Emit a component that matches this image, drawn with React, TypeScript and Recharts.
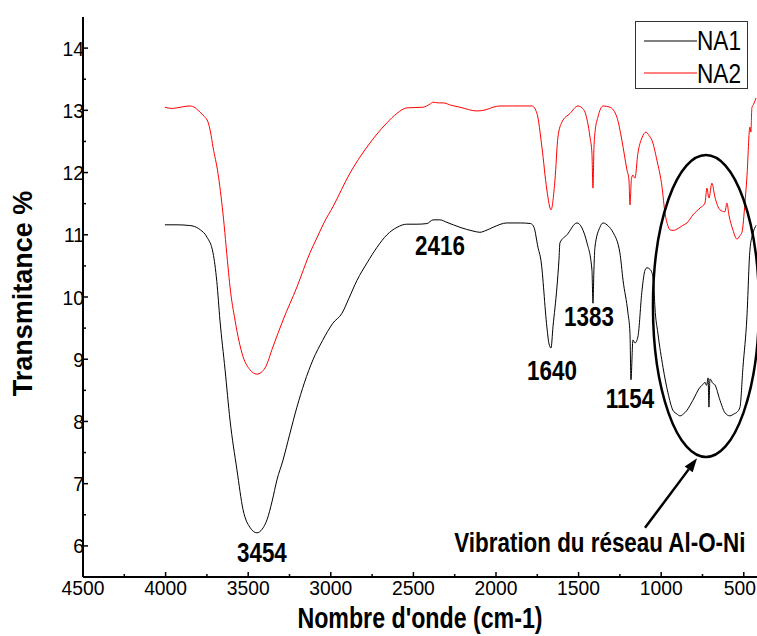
import React from 'react';
import { LineChart, Line, XAxis, YAxis, ReferenceDot, ReferenceLine, Legend, Label } from 'recharts';

// Wavenumbers (cm-1) and transmittance values
const na1Wave = [4004,3930,3860,3834,3790,3749,3713,3690,3671,3640,3610,3568,3531,3490,3447,3415,3386,3355,3326,3289,3250,3205,3160,3108,3050,2987,2932,2890,2841,2780,2720,2660,2599,2540,2478,2418,2381,2340,2297,2218,2139,2097,2060,2018,1934,1850,1790,1770,1746,1728,1692,1680,1667,1655,1631,1619,1613,1570,1510,1449,1419,1413,1407,1401,1371,1352,1320,1292,1250,1231,1201,1189,1183,1171,1159,1141,1116,1098,1086,1070,1056,1045,1038,1020,989,959,929,905,886,865,844,808,765,745,735,725,716,711,705,699,690,675,644,614,584,560,541,523,505,481,463,444,425];
const na1Trans = [11.16,11.16,11.15,11.14,11.08,10.96,10.71,10.25,9.63,8.83,8.02,7.22,6.58,6.30,6.21,6.27,6.42,6.72,7.06,7.38,7.78,8.23,8.62,8.99,9.30,9.58,9.74,9.98,10.27,10.55,10.80,11.00,11.12,11.17,11.17,11.18,11.24,11.24,11.20,11.12,11.06,11.04,11.07,11.12,11.19,11.19,11.18,11.12,10.80,10.59,9.52,9.26,9.18,9.52,10.16,10.59,10.87,11.00,11.19,10.87,10.43,9.90,10.45,10.80,11.12,11.19,11.14,11.04,10.71,10.27,9.74,9.42,8.67,9.31,9.26,9.36,10.11,10.43,10.47,10.45,10.39,10.20,9.84,9.42,8.87,8.46,8.18,8.12,8.09,8.12,8.18,8.34,8.55,8.60,8.63,8.58,8.70,8.23,8.68,8.67,8.62,8.59,8.34,8.14,8.09,8.12,8.15,8.23,8.87,9.68,10.75,11.03,11.15];

const na2Wave = [4004,3960,3931,3890,3852,3820,3792,3765,3743,3728,3713,3683,3653,3622,3610,3580,3531,3489,3447,3398,3350,3289,3205,3126,3084,3040,2987,2884,2781,2720,2660,2600,2539,2442,2400,2381,2350,2321,2270,2218,2115,2060,2018,1976,1900,1782,1752,1722,1692,1667,1643,1625,1601,1552,1504,1480,1461,1431,1419,1413,1407,1401,1383,1352,1310,1268,1238,1207,1195,1189,1180,1171,1159,1141,1116,1092,1075,1056,1026,995,977,960,947,925,905,870,844,808,765,735,723,711,693,675,644,614,602,590,566,541,525,511,493,481,463,457,451,440,425];
const na2Trans = [13.05,13.03,13.04,13.06,13.07,13.04,12.97,12.90,12.81,12.65,12.41,11.99,11.35,10.48,10.16,9.63,9.04,8.83,8.76,8.86,9.20,9.63,10.16,10.71,10.95,11.20,11.45,11.99,12.41,12.62,12.80,12.95,13.04,13.05,13.10,13.13,13.12,13.12,13.08,13.05,12.99,13.01,13.05,13.07,13.07,13.07,12.95,12.41,11.72,11.40,11.88,12.57,12.81,12.95,13.07,13.04,12.97,12.57,12.30,11.75,12.40,12.64,12.89,13.07,13.05,12.89,12.52,12.04,11.88,11.48,11.90,11.96,11.91,12.31,12.56,12.65,12.60,12.52,12.20,11.77,11.35,11.15,11.08,11.07,11.09,11.15,11.19,11.32,11.43,11.51,11.75,11.59,11.83,11.61,11.40,11.37,11.51,11.32,11.08,10.93,10.98,11.04,11.51,11.93,12.73,12.65,13.04,13.10,13.20];

const xTicks = [4500,4250,4000,3750,3500,3250,3000,2750,2500,2250,2000,1750,1500,1250,1000,750,500];
const yTicks = [6,6.5,7,7.5,8,8.5,9,9.5,10,10.5,11,11.5,12,12.5,13,13.5,14];

const peakLabels = [
  { text: '3454', x: 3417, y: 5.90 },
  { text: '2416', x: 2339, y: 10.84 },
  { text: '1640', x: 1661, y: 8.83 },
  { text: '1383', x: 1437, y: 9.69 },
  { text: '1154', x: 1189, y: 8.38 },
];
const regionLabel = { text: 'Vibration du réseau Al-O-Ni', x: 1371, y: 6.06 };
const regionEllipse = { x: 729, y: 9.855 };
const arrowFrom = { x: 1098, y: 6.29 };
const arrowTo = { x: 783, y: 7.41 };

const zip = (xs: number[], ys: number[]) => xs.map((x, i) => ({ x, t: ys[i] }));
const na1Data = zip(na1Wave, na1Trans);
const na2Data = zip(na2Wave, na2Trans);

const FONT = '"Liberation Sans", Arial, sans-serif';
const CHART_W = 757;

const BottomTick = (p: any) => {
  const { x, y, payload } = p;
  const major = payload.value % 500 === 0;
  const nearEdge = x > CHART_W - 18;
  return (
    <g>
      <line x1={x} x2={x} y1={y} y2={y - (major ? 5 : 3)} stroke="#000" strokeWidth={1.5} />
      {major && (
        <text
          transform={`translate(${nearEdge ? CHART_W - 1 : x},${y + 18}) scale(0.92,1)`}
          textAnchor={nearEdge ? 'end' : 'middle'}
          fontSize={21}
          fontFamily={FONT}
          fill="#000"
        >
          {payload.value}
        </text>
      )}
    </g>
  );
};

const TopTick = (p: any) => {
  const { x, y, payload } = p;
  const major = payload.value % 500 === 0;
  return <line x1={x} x2={x} y1={y} y2={y + (major ? 5 : 3)} stroke="#000" strokeWidth={1.5} />;
};

const LeftTick = (p: any) => {
  const { x, y, payload } = p;
  const major = Number.isInteger(payload.value);
  return (
    <g>
      <line x1={x} x2={x + (major ? 5 : 3)} y1={y} y2={y} stroke="#000" strokeWidth={1.5} />
      {major && (
        <text transform={`translate(${x + 1},${y + 7.5}) scale(0.92,1)`} textAnchor="end" fontSize={21} fontFamily={FONT} fill="#000">
          {payload.value}
        </text>
      )}
    </g>
  );
};

const boldText = (text: string, size: number, sx: number) => (p: any) => (
  <text
    transform={`translate(${p.cx},${p.cy}) scale(${sx},1)`}
    y={size * 0.36}
    textAnchor="middle"
    fontSize={size}
    fontWeight="bold"
    fontFamily={FONT}
    fill="#000"
  >
    {text}
  </text>
);

const ArrowShape = (p: any) => {
  const { x1, y1, x2, y2 } = p;
  const dx = x2 - x1;
  const dy = y2 - y1;
  const len = Math.sqrt(dx * dx + dy * dy) || 1;
  const ux = dx / len;
  const uy = dy / len;
  const hl = 14;
  const hw = 5;
  const bx = x2 - ux * hl;
  const by = y2 - uy * hl;
  const pts = `${x2},${y2} ${bx - uy * hw},${by + ux * hw} ${bx + uy * hw},${by - ux * hw}`;
  return (
    <g>
      <line x1={x1} y1={y1} x2={bx} y2={by} stroke="#000" strokeWidth={2.5} />
      <polygon points={pts} fill="#000" />
    </g>
  );
};

const LegendContent = () => (
  <svg width={113} height={68} style={{ display: 'block' }}>
    <rect x={0.5} y={0.5} width={112} height={67} fill="#fff" stroke="#333" strokeWidth={1} />
    <line x1={9} x2={62} y1={20} y2={20} stroke="#000" strokeWidth={1} />
    <text transform="translate(62,29) scale(0.84,1)" fontSize={27} fontFamily={FONT} fill="#000">NA1</text>
    <line x1={9} x2={62} y1={52} y2={52} stroke="#ff0000" strokeWidth={1} />
    <text transform="translate(62,62) scale(0.84,1)" fontSize={27} fontFamily={FONT} fill="#000">NA2</text>
  </svg>
);

export default function App() {
  return (
    <div style={{ position: 'absolute', left: 0, top: 0, width: 757, height: 636, background: '#fff' }}>
      <LineChart width={757} height={636} margin={{ top: 17, right: 0, bottom: 0, left: 0 }}>
        <XAxis
          dataKey="x"
          type="number"
          domain={[420, 4500]}
          reversed
          allowDataOverflow
          ticks={xTicks}
          interval={0}
          height={59}
          tickSize={0}
          tickMargin={0}
          tickLine={false}
          tick={BottomTick}
          axisLine={{ stroke: '#000', strokeWidth: 2 }}
        >
          <Label
            content={(props: any) => {
              const vb = props.viewBox;
              const cx = vb.x + vb.width / 2;
              return (
                <text transform={`translate(${cx},${vb.y + 51}) scale(0.8,1)`} textAnchor="middle" fontSize={29} fontWeight="bold" fontFamily={FONT} fill="#000">
                  Nombre d'onde (cm-1)
                </text>
              );
            }}
          />
        </XAxis>
        <XAxis
          xAxisId="top"
          orientation="top"
          dataKey="x"
          type="number"
          domain={[420, 4500]}
          reversed
          allowDataOverflow
          ticks={xTicks}
          interval={0}
          height={0}
          tickSize={0}
          tickMargin={0}
          tickLine={false}
          tick={TopTick}
          axisLine={{ stroke: '#000', strokeWidth: 2 }}
        />
        <YAxis
          type="number"
          domain={[5.5, 14.5]}
          allowDataOverflow
          ticks={yTicks}
          interval={0}
          width={83}
          tickSize={0}
          tickMargin={0}
          tickLine={false}
          tick={LeftTick}
          axisLine={{ stroke: '#000', strokeWidth: 2 }}
        >
          <Label
            content={() => (
              <text transform="translate(22,293.5) rotate(-90)" y={9.5} textAnchor="middle" fontSize={27} fontWeight="bold" fontFamily={FONT} fill="#000">
                Transmitance %
              </text>
            )}
          />
        </YAxis>
        <Legend
          layout="vertical"
          align="center"
          verticalAlign="middle"
          content={LegendContent}
          wrapperStyle={{ left: 635, top: 21, width: 113, height: 68 }}
        />
        <Line data={na1Data} dataKey="t" name="NA1" type="monotone" stroke="#000" strokeWidth={1} dot={false} isAnimationActive={false} />
        <Line data={na2Data} dataKey="t" name="NA2" type="monotone" stroke="#ff0000" strokeWidth={1} dot={false} isAnimationActive={false} />
        {peakLabels.map((l) => (
          <ReferenceDot key={l.text} x={l.x} y={l.y} r={0} ifOverflow="visible" shape={boldText(l.text, 28, 0.8)} />
        ))}
        <ReferenceDot x={regionLabel.x} y={regionLabel.y} r={0} ifOverflow="visible" shape={boldText(regionLabel.text, 28, 0.8)} />
        <ReferenceDot
          x={regionEllipse.x}
          y={regionEllipse.y}
          r={0}
          ifOverflow="visible"
          shape={(p: any) => <ellipse cx={p.cx} cy={p.cy} rx={53} ry={151} fill="none" stroke="#000" strokeWidth={2.5} />}
        />
        <ReferenceLine
          segment={[arrowFrom, arrowTo]}
          ifOverflow="visible"
          stroke="#000"
          shape={ArrowShape}
        />
      </LineChart>
    </div>
  );
}
